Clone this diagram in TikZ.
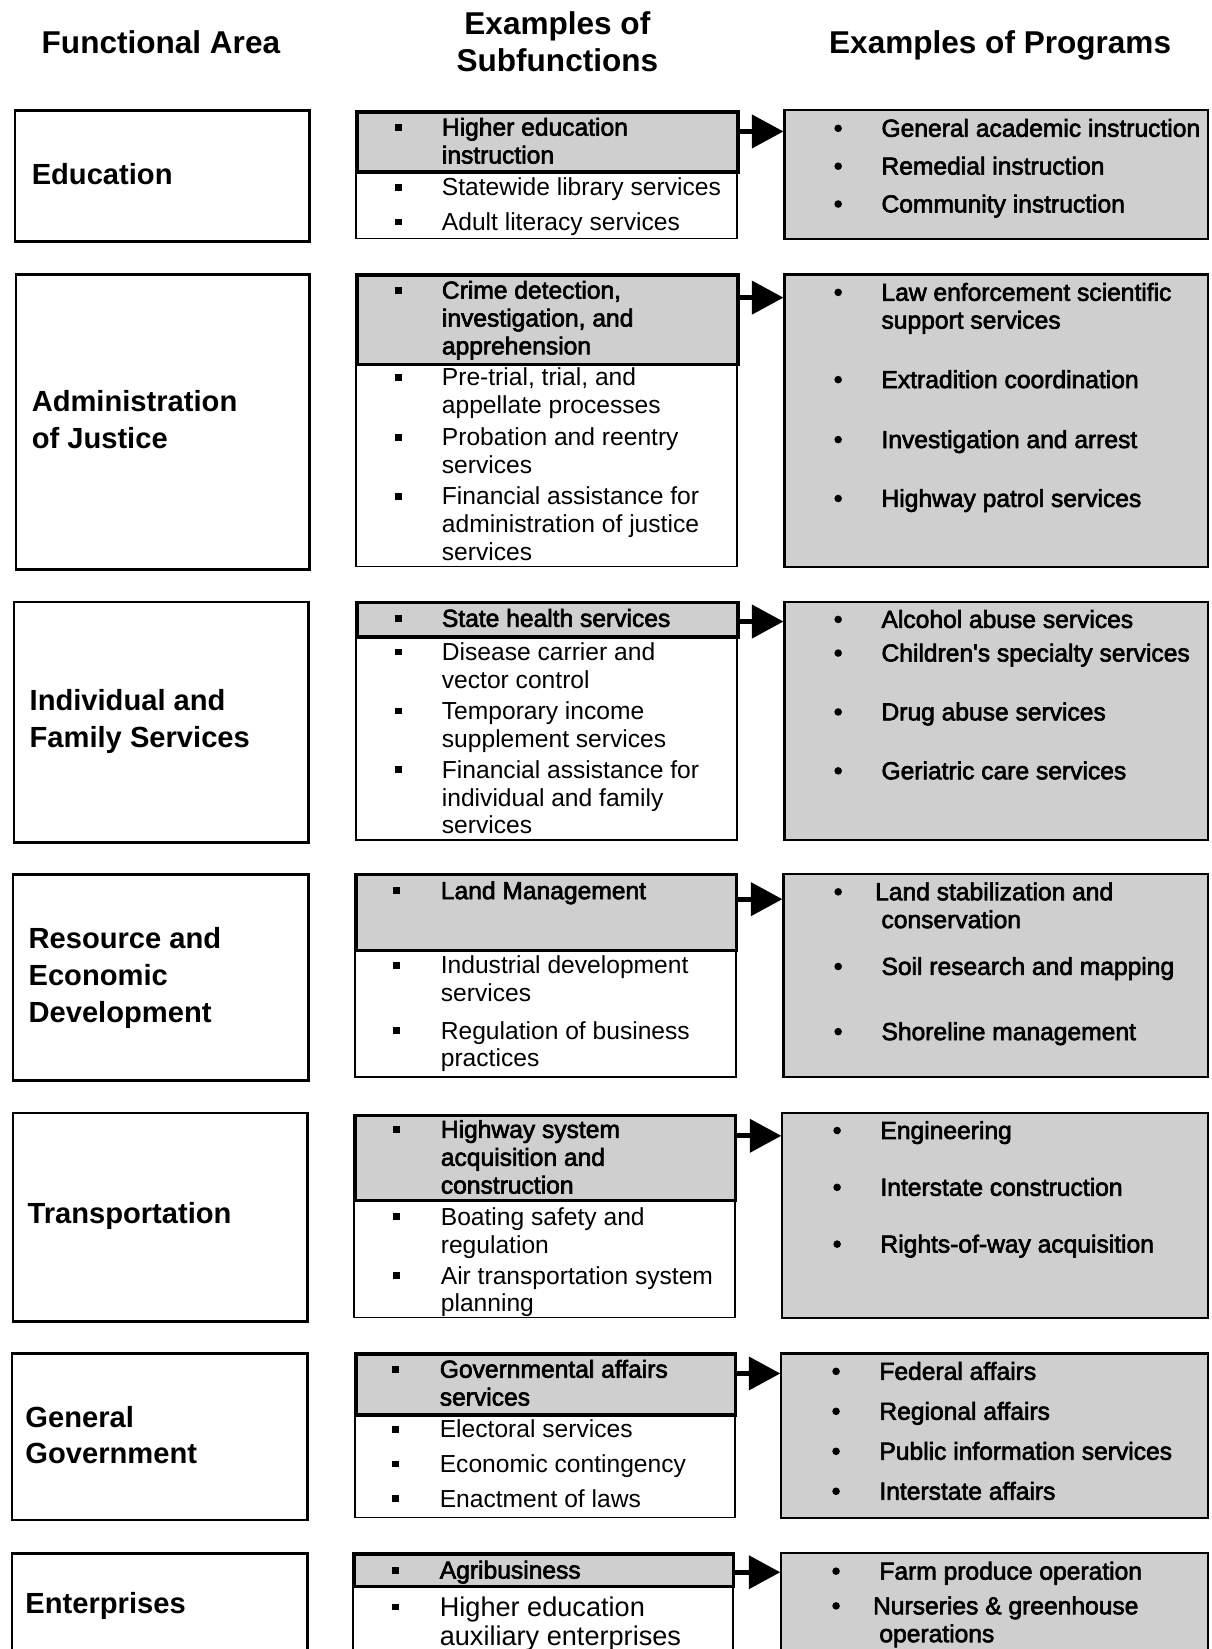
\documentclass[tikz,border=0pt]{standalone}
\usepackage{fontspec}
\setmainfont{Liberation Sans}
\newfontfamily\medfont[FakeBold=2.6]{Liberation Sans}
\usetikzlibrary{arrows.meta}
\newcommand\lns[1]{\begin{tabular}[t]{@{}l@{}}#1\end{tabular}}
\newcommand\clns[1]{\begin{tabular}[t]{@{}c@{}}#1\end{tabular}}
\newcommand\sqb[2]{\fill (#1-3.2,#2-3.2) rectangle (#1+3.2,#2+3.2);}
\newcommand\rdb[2]{\fill (#1,#2) circle (3.6);}
\definecolor{shade}{gray}{0.81}
\begin{document}
\begin{tikzpicture}[x=1pt,y=-1pt,
  head/.style={anchor=base,inner sep=0,font=\bfseries\fontsize{30}{35}\selectfont},
  area/.style={draw,line width=2.6,anchor=north west,inner sep=0},
  arealbl/.style={anchor=base west,inner sep=0,font=\bfseries\fontsize{27.7}{35}\selectfont},
  subbox/.style={draw,line width=1.6,anchor=north west,inner sep=0},
  hlbox/.style={draw,line width=3.2,fill=shade,anchor=north west,inner sep=0},
  progbox/.style={draw,line width=2,fill=shade,anchor=north west,inner sep=0},
  itm/.style={anchor=base west,inner sep=0,font=\fontsize{23.4}{26.5}\selectfont},
  hitm/.style={anchor=base west,inner sep=0,font=\medfont\fontsize{23.4}{26.5}\selectfont},
  arr/.style={line width=5,-{Triangle[length=30pt,width=31pt]}}]
\useasboundingbox (0,0) rectangle (1152,1568);
\clip (0,0) rectangle (1152,1568);

% headers
\node[head] (h1) at (153,51) {Functional Area};
\node[head] (h2) at (530,33) {\clns{Examples of\\Subfunctions}};
\node[head] (h3) at (951,51) {Examples of Programs};

% ---------- Education ----------
\node[area,minimum width=280,minimum height=124] (aEdu) at (13,104) {};
\node[arealbl] (lEdu) at (30,175) {Education};
\node[subbox,minimum width=362,minimum height=121] (sEdu) at (338,105) {};
\node[hlbox,minimum width=362,minimum height=57] (hEdu) at (338,105) {};
\node[progbox,minimum width=403,minimum height=122] (pEdu) at (745,104) {};
\sqb{379}{121}\sqb{379}{178}\sqb{379}{211}
\node[hitm] (sEdu1) at (420,129) {\lns{Higher education\\instruction}};
\node[itm] (sEdu2) at (420,186) {Statewide library services};
\node[itm] (sEdu3) at (420,219) {Adult literacy services};
\rdb{797}{122}\rdb{797}{158}\rdb{797}{194}
\node[hitm] (pEdu1) at (838,130) {General academic instruction};
\node[hitm] (pEdu2) at (838,166) {Remedial instruction};
\node[hitm] (pEdu3) at (838,202) {Community instruction};
\draw[arr] (hEdu.east |- 0,125) -- (pEdu.west |- 0,125);

% ---------- Administration of Justice ----------
\node[area,minimum width=279,minimum height=280] (aAdm) at (14,260) {};
\node[arealbl] (lAdm) at (30,391) {\lns{Administration\\of Justice}};
\node[subbox,minimum width=362,minimum height=278] (sAdm) at (338,260) {};
\node[hlbox,minimum width=362,minimum height=85] (hAdm) at (338,260) {};
\node[progbox,minimum width=403,minimum height=278] (pAdm) at (745,260) {};
\sqb{379}{276}\sqb{379}{359}\sqb{379}{416}\sqb{379}{472}
\node[hitm] (sAdm1) at (420,284) {\lns{Crime detection,\\investigation, and\\apprehension}};
\node[itm] (sAdm2) at (420,367) {\lns{Pre-trial, trial, and\\appellate processes}};
\node[itm] (sAdm3) at (420,424) {\lns{Probation and reentry\\services}};
\node[itm] (sAdm4) at (420,480) {\lns{Financial assistance for\\administration of justice\\services}};
\rdb{797}{278}\rdb{797}{361}\rdb{797}{418}\rdb{797}{474}
\node[hitm] (pAdm1) at (838,286) {\lns{Law enforcement scientific\\support services}};
\node[hitm] (pAdm2) at (838,369) {Extradition coordination};
\node[hitm] (pAdm3) at (838,426) {Investigation and arrest};
\node[hitm] (pAdm4) at (838,482) {Highway patrol services};
\draw[arr] (hAdm.east |- 0,283) -- (pAdm.west |- 0,283);

% ---------- Individual and Family Services ----------
\node[area,minimum width=280,minimum height=229] (aInd) at (12,571) {};
\node[arealbl] (lInd) at (28,676) {\lns{Individual and\\Family Services}};
\node[subbox,minimum width=362,minimum height=227] (sInd) at (338,571) {};
\node[hlbox,minimum width=362,minimum height=33] (hInd) at (338,571) {};
\node[progbox,minimum width=403,minimum height=227] (pInd) at (745,571) {};
\sqb{379}{588}\sqb{379}{620}\sqb{379}{676}\sqb{379}{732}
\node[hitm] (sInd1) at (420,596) {State health services};
\node[itm] (sInd2) at (420,628) {\lns{Disease carrier and\\vector control}};
\node[itm] (sInd3) at (420,684) {\lns{Temporary income\\supplement services}};
\node[itm] (sInd4) at (420,740) {\lns{Financial assistance for\\individual and family\\services}};
\rdb{797}{589}\rdb{797}{621}\rdb{797}{677}\rdb{797}{733}
\node[hitm] (pInd1) at (838,597) {Alcohol abuse services};
\node[hitm] (pInd2) at (838,629) {Children's specialty services};
\node[hitm] (pInd3) at (838,685) {Drug abuse services};
\node[hitm] (pInd4) at (838,741) {Geriatric care services};
\draw[arr] (hInd.east |- 0,591) -- (pInd.west |- 0,591);

% ---------- Resource and Economic Development ----------
\node[area,minimum width=281,minimum height=196] (aRes) at (11,830) {};
\node[arealbl] (lRes) at (27,902) {\lns{Resource and\\Economic\\Development}};
\node[subbox,minimum width=362,minimum height=193] (sRes) at (337,830) {};
\node[hlbox,minimum width=362,minimum height=72] (hRes) at (337,830) {};
\node[progbox,minimum width=404,minimum height=193] (pRes) at (744,830) {};
\sqb{377}{847}\sqb{377}{918}\sqb{377}{980}
\node[hitm] (sRes1) at (419,855) {Land Management};
\node[itm] (sRes2) at (419,926) {\lns{Industrial development\\services}};
\node[itm] (sRes3) at (419,988) {\lns{Regulation of business\\practices}};
\rdb{797}{848}\rdb{797}{919}\rdb{797}{981}
\node[hitm] (pRes1) at (838,856) {\lns{\hspace*{-6pt}Land stabilization and\\conservation}};
\node[hitm] (pRes2) at (838,927) {Soil research and mapping};
\node[hitm] (pRes3) at (838,989) {Shoreline management};
\draw[arr] (hRes.east |- 0,855) -- (pRes.west |- 0,855);

% ---------- Transportation ----------
\node[area,minimum width=280,minimum height=198] (aTra) at (11,1057) {};
\node[arealbl] (lTra) at (26,1163) {Transportation};
\node[subbox,minimum width=362,minimum height=193] (sTra) at (336,1059) {};
\node[hlbox,minimum width=362,minimum height=81] (hTra) at (336,1059) {};
\node[progbox,minimum width=405,minimum height=195] (pTra) at (743,1057) {};
\sqb{377}{1074}\sqb{377}{1157}\sqb{377}{1213}
\node[hitm] (sTra1) at (419,1082) {\lns{Highway system\\acquisition and\\construction}};
\node[itm] (sTra2) at (419,1165) {\lns{Boating safety and\\regulation}};
\node[itm] (sTra3) at (419,1221) {\lns{Air transportation system\\planning}};
\rdb{796}{1075}\rdb{796}{1129}\rdb{796}{1183}
\node[hitm] (pTra1) at (837,1083) {Engineering};
\node[hitm] (pTra2) at (837,1137) {Interstate construction};
\node[hitm] (pTra3) at (837,1191) {Rights-of-way acquisition};
\draw[arr] (hTra.east |- 0,1080) -- (pTra.west |- 0,1080);

% ---------- General Government ----------
\node[area,minimum width=281,minimum height=158] (aGen) at (10,1286) {};
\node[arealbl] (lGen) at (24,1357) {\lns{General\\Government}};
\node[subbox,minimum width=361,minimum height=156] (sGen) at (337,1286) {};
\node[hlbox,minimum width=361,minimum height=58] (hGen) at (337,1286) {};
\node[progbox,minimum width=406,minimum height=156] (pGen) at (742,1286) {};
\sqb{376}{1302}\sqb{376}{1359}\sqb{376}{1392}\sqb{376}{1425}
\node[hitm] (sGen1) at (418,1310) {\lns{Governmental affairs\\services}};
\node[itm] (sGen2) at (418,1367) {Electoral services};
\node[itm] (sGen3) at (418,1400) {Economic contingency};
\node[itm] (sGen4) at (418,1433) {Enactment of laws};
\rdb{795}{1304}\rdb{795}{1342}\rdb{795}{1380}\rdb{795}{1418}
\node[hitm] (pGen1) at (836,1312) {Federal affairs};
\node[hitm] (pGen2) at (836,1350) {Regional affairs};
\node[hitm] (pGen3) at (836,1388) {Public information services};
\node[hitm] (pGen4) at (836,1426) {Interstate affairs};
\draw[arr] (hGen.east |- 0,1306) -- (pGen.west |- 0,1306);

% ---------- Enterprises ----------
\node[area,minimum width=281,minimum height=140] (aEnt) at (10,1476) {};
\node[arealbl] (lEnt) at (24,1534) {Enterprises};
\node[subbox,minimum width=361,minimum height=140] (sEnt) at (335,1476) {};
\node[hlbox,minimum width=361,minimum height=31] (hEnt) at (335,1476) {};
\node[progbox,minimum width=406,minimum height=140] (pEnt) at (742,1476) {};
\sqb{376}{1493}\sqb{376}{1528}
\node[hitm] (sEnt1) at (418,1501) {Agribusiness};
\node[itm,font=\fontsize{25.8}{28}\selectfont] (sEnt2) at (418,1537) {\lns{Higher education\\auxiliary enterprises}};
\rdb{795}{1494}\rdb{795}{1527}
\node[hitm] (pEnt1) at (836,1502) {Farm produce operation};
\node[hitm] (pEnt2) at (836,1535) {\lns{\hspace*{-6pt}Nurseries \& greenhouse\\operations}};
\draw[arr] (hEnt.east |- 0,1495) -- (pEnt.west |- 0,1495);
\end{tikzpicture}
\end{document}
